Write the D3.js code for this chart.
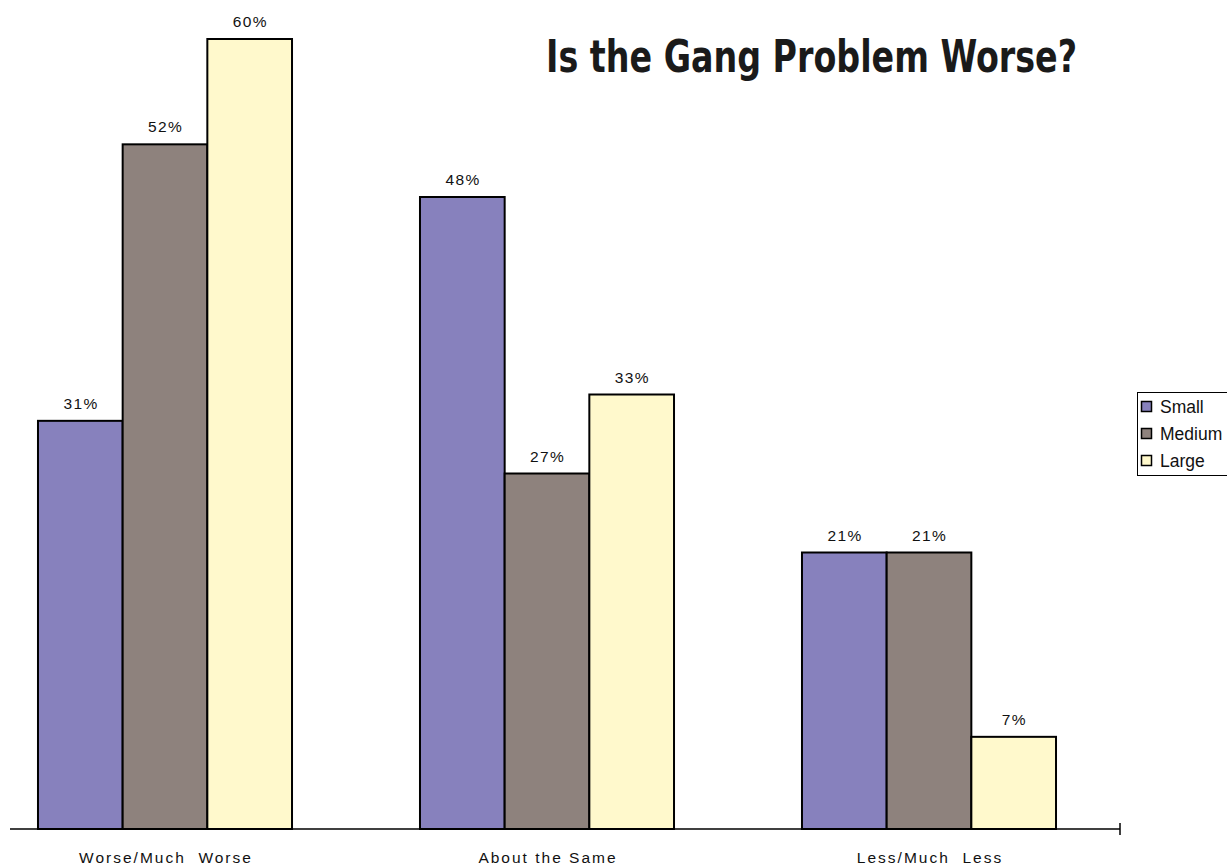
<!DOCTYPE html>
<html>
<head>
<meta charset="utf-8">
<script src="https://cdn.jsdelivr.net/npm/d3@7"></script>
<style>
  html, body { margin: 0; padding: 0; background: #fff; }
  svg { display: block; }
</style>
</head>
<body>
<svg id="chart" width="1227" height="867"></svg>
<script>
// Survey answers grouped by jurisdiction size
const categories = ["Worse/Much  Worse", "About the Same", "Less/Much  Less"];
const seriesNames = ["Small", "Medium", "Large"];
const small  = [31, 48, 21];
const medium = [52, 27, 21];
const large  = [60, 33, 7];
const colors = ["#8781bd", "#8e827d", "#fff9cc"];

const series = [small, medium, large];
const rows = categories.map((c, i) => ({
  cat: c,
  vals: seriesNames.map((s, j) => ({ key: s, value: series[j][i], idx: j }))
}));

const svg = d3.select("#chart");
const sans = "Liberation Sans, Arial, sans-serif";

const baseY = 829;
const y = d3.scaleLinear().domain([0, 60]).range([baseY, 39]);
const x0 = d3.scaleBand().domain(categories).range([-26, 1120])
  .paddingInner(0.335).paddingOuter(0.1675);
const x1 = d3.scaleBand().domain(seriesNames).range([0, x0.bandwidth()]);

// Bars
const groups = svg.append("g").selectAll("g").data(rows).join("g")
  .attr("transform", d => `translate(${x0(d.cat)},0)`);

groups.selectAll("rect").data(d => d.vals).join("rect")
  .attr("x", d => x1(d.key))
  .attr("y", d => y(d.value))
  .attr("width", x1.bandwidth())
  .attr("height", d => baseY - y(d.value))
  .attr("fill", d => colors[d.idx])
  .attr("stroke", "#000")
  .attr("stroke-width", 2);

// Value labels
groups.selectAll("text").data(d => d.vals).join("text")
  .attr("x", d => x1(d.key) + x1.bandwidth() / 2 + 0.7)
  .attr("y", d => y(d.value) - 12)
  .attr("text-anchor", "middle")
  .attr("font-family", sans)
  .attr("font-size", 15.5)
  .attr("letter-spacing", 1.4)
  .attr("fill", "#111")
  .text(d => d.value + "%");

// Category axis
svg.append("line")
  .attr("x1", 10).attr("x2", 1120)
  .attr("y1", baseY).attr("y2", baseY)
  .attr("stroke", "#000").attr("stroke-width", 1.5);
svg.append("line")
  .attr("x1", 1120).attr("x2", 1120)
  .attr("y1", baseY - 6).attr("y2", baseY + 6)
  .attr("stroke", "#000").attr("stroke-width", 1.5);

svg.append("g").selectAll("text").data(categories).join("text")
  .attr("x", d => x0(d) + x0.bandwidth() / 2 + 1)
  .attr("y", 863)
  .attr("text-anchor", "middle")
  .attr("font-family", sans)
  .attr("font-size", 15.5)
  .attr("letter-spacing", 2)
  .attr("fill", "#111")
  .style("white-space", "pre")
  .text(d => d);

// Title
svg.append("text")
  .attr("x", 546).attr("y", 72)
  .attr("font-family", "Liberation Sans Narrow, DejaVu Sans Condensed, Arial Narrow, sans-serif")
  .attr("font-weight", "bold")
  .attr("font-size", 45)
  .attr("fill", "#1a1a1a")
  .attr("textLength", 531)
  .attr("lengthAdjust", "spacingAndGlyphs")
  .text("Is the Gang Problem Worse?");

// Legend
const legend = svg.append("g");
legend.append("rect")
  .attr("x", 1137.5).attr("y", 392.5)
  .attr("width", 100).attr("height", 83)
  .attr("fill", "#fff").attr("stroke", "#000").attr("stroke-width", 1);
const items = legend.selectAll("g").data(seriesNames).join("g")
  .attr("transform", (d, i) => `translate(1141,${401 + i * 27})`);
items.append("rect")
  .attr("x", 0.5).attr("y", 0.5).attr("width", 10).attr("height", 10)
  .attr("fill", (d, i) => colors[i]).attr("stroke", "#000").attr("stroke-width", 1.5);
items.append("text")
  .attr("x", 19).attr("y", 12)
  .attr("font-family", sans)
  .attr("font-size", 17.5)
  .attr("fill", "#111")
  .text(d => d);
</script>
</body>
</html>
